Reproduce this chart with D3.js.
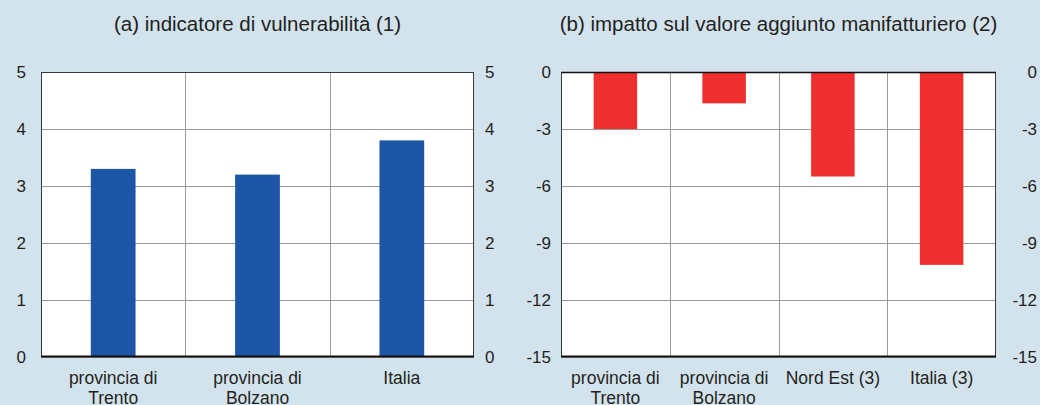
<!doctype html>
<html lang="it">
<head>
<meta charset="UTF-8">
<title>vulnerabilità</title>
<script src="https://d3js.org/d3.v7.min.js"></script>
<style>
  html, body { margin: 0; padding: 0; background: #d3e3ed; }
  svg { display: block; font-family: "Liberation Sans", Arial, sans-serif; }
</style>
</head>
<body>
<script>
  // pannello (a)
  var catsA = ["provincia di\nTrento", "provincia di\nBolzano", "Italia"];
  var valsA = [3.3, 3.2, 3.8];
  var ticksA = [0, 1, 2, 3, 4, 5];
  var titleA = "(a) indicatore di vulnerabilità (1)";

  // pannello (b)
  var catsB = ["provincia di\nTrento", "provincia di\nBolzano", "Nord Est (3)", "Italia (3)"];
  var valsB = [-3.0, -1.65, -5.5, -10.15];
  var ticksB = [0, -3, -6, -9, -12, -15];
  var titleB = "(b) impatto sul valore aggiunto manifatturiero (2)";

  var W = 1040, H = 405;
  var svg = d3.select("body").append("svg")
      .attr("width", W).attr("height", H);

  var fmt = function(d) { return String(d); }; // trattino semplice, niente decimali

  function panel(o) {
    var g = svg.append("g");
    var x = d3.scaleBand().domain(o.cats).range([o.x0, o.x1]).paddingInner(0).paddingOuter(0);
    var y = d3.scaleLinear().domain(o.domain).range([o.y1, o.y0]);

    g.append("rect")
        .attr("x", o.x0).attr("y", o.y0)
        .attr("width", o.x1 - o.x0).attr("height", o.y1 - o.y0)
        .attr("fill", "#fff");

    // grid orizzontale
    g.append("g")
        .attr("transform", "translate(" + o.x0 + ",0)")
        .call(d3.axisLeft(y).tickValues(o.ticks).tickSize(-(o.x1 - o.x0)).tickFormat(""))
        .call(function(s) {
          s.select(".domain").remove();
          s.selectAll("line").attr("stroke", "#9a9a9a").attr("stroke-width", 1);
        });

    // grid verticale
    g.append("g")
        .selectAll("line")
        .data(o.cats.slice(1))
        .join("line")
        .attr("x1", function(d) { return Math.round(x(d)) + 0.5; })
        .attr("x2", function(d) { return Math.round(x(d)) + 0.5; })
        .attr("y1", o.y0).attr("y2", o.y1)
        .attr("stroke", "#9a9a9a");

    var bw = x.bandwidth() * o.barFrac;
    g.append("g")
        .selectAll("rect")
        .data(o.vals)
        .join("rect")
        .attr("x", function(d, i) { return x(o.cats[i]) + (x.bandwidth() - bw) / 2; })
        .attr("width", bw)
        .attr("y", function(d) { return y(Math.max(0, d)); })
        .attr("height", function(d) { return Math.abs(y(d) - y(0)); })
        .attr("fill", o.color);

    // cornice
    g.append("rect")
        .attr("x", o.x0 + 0.5).attr("y", o.y0 + 0.5)
        .attr("width", o.x1 - o.x0 - 1).attr("height", o.y1 - o.y0 - 1)
        .attr("fill", "none").attr("stroke", "#3a3a3a").attr("stroke-width", 1);
    g.append("line")
        .attr("x1", o.x0).attr("x2", o.x1)
        .attr("y1", o.y1 - 0.5).attr("y2", o.y1 - 0.5)
        .attr("stroke", "#111").attr("stroke-width", 2);
    if (o.domain[1] === 0) {
      g.append("line")
          .attr("x1", o.x0).attr("x2", o.x1)
          .attr("y1", o.y0 + 0.5).attr("y2", o.y0 + 0.5)
          .attr("stroke", "#111").attr("stroke-width", 1.5);
    }

    // etichette assi
    var left = g.append("g")
        .attr("transform", "translate(" + o.leftLab + ",0)")
        .call(d3.axisLeft(y).tickValues(o.ticks).tickSize(0).tickPadding(0).tickFormat(fmt));
    var right = g.append("g")
        .attr("transform", "translate(" + o.rightLab + ",0)")
        .call(d3.axisLeft(y).tickValues(o.ticks).tickSize(0).tickPadding(0).tickFormat(fmt));
    [left, right].forEach(function(a) {
      a.attr("font-size", null).attr("font-family", null);
      a.select(".domain").remove();
      a.selectAll("text")
          .attr("font-size", 17)
          .attr("fill", "#231f20")
          .attr("text-anchor", (a === left || o.rightAnchor) ? "end" : "start");
    });

    // categorie
    var cl = g.append("g").selectAll("text")
        .data(o.cats)
        .join("text")
        .attr("x", function(d) { return x(d) + x.bandwidth() / 2; })
        .attr("y", o.y1 + 27)
        .attr("text-anchor", "middle")
        .attr("font-size", 17.5)
        .attr("fill", "#231f20");
    cl.selectAll("tspan")
        .data(function(d) { return d.split("\n"); })
        .join("tspan")
        .attr("x", function() { return d3.select(this.parentNode).attr("x"); })
        .attr("dy", function(d, i) { return i ? 20 : 0; })
        .text(function(d) { return d; });

    g.append("text")
        .attr("x", (o.x0 + o.x1) / 2)
        .attr("y", 31)
        .attr("text-anchor", "middle")
        .attr("font-size", 20.5)
        .attr("fill", "#231f20")
        .text(o.title);
  }

  panel({
    cats: catsA, vals: valsA, ticks: ticksA, title: titleA,
    domain: [0, 5], x0: 41, x1: 474, y0: 72, y1: 357,
    leftLab: 26, rightLab: 485, barFrac: 0.31, color: "#1d56a6"
  });

  panel({
    cats: catsB, vals: valsB, ticks: ticksB, title: titleB,
    domain: [-15, 0], x0: 561, x1: 996, y0: 72, y1: 357,
    leftLab: 551, rightLab: 1037, rightAnchor: true, barFrac: 0.4, color: "#ee2e2f"
  });
</script>
</body>
</html>
